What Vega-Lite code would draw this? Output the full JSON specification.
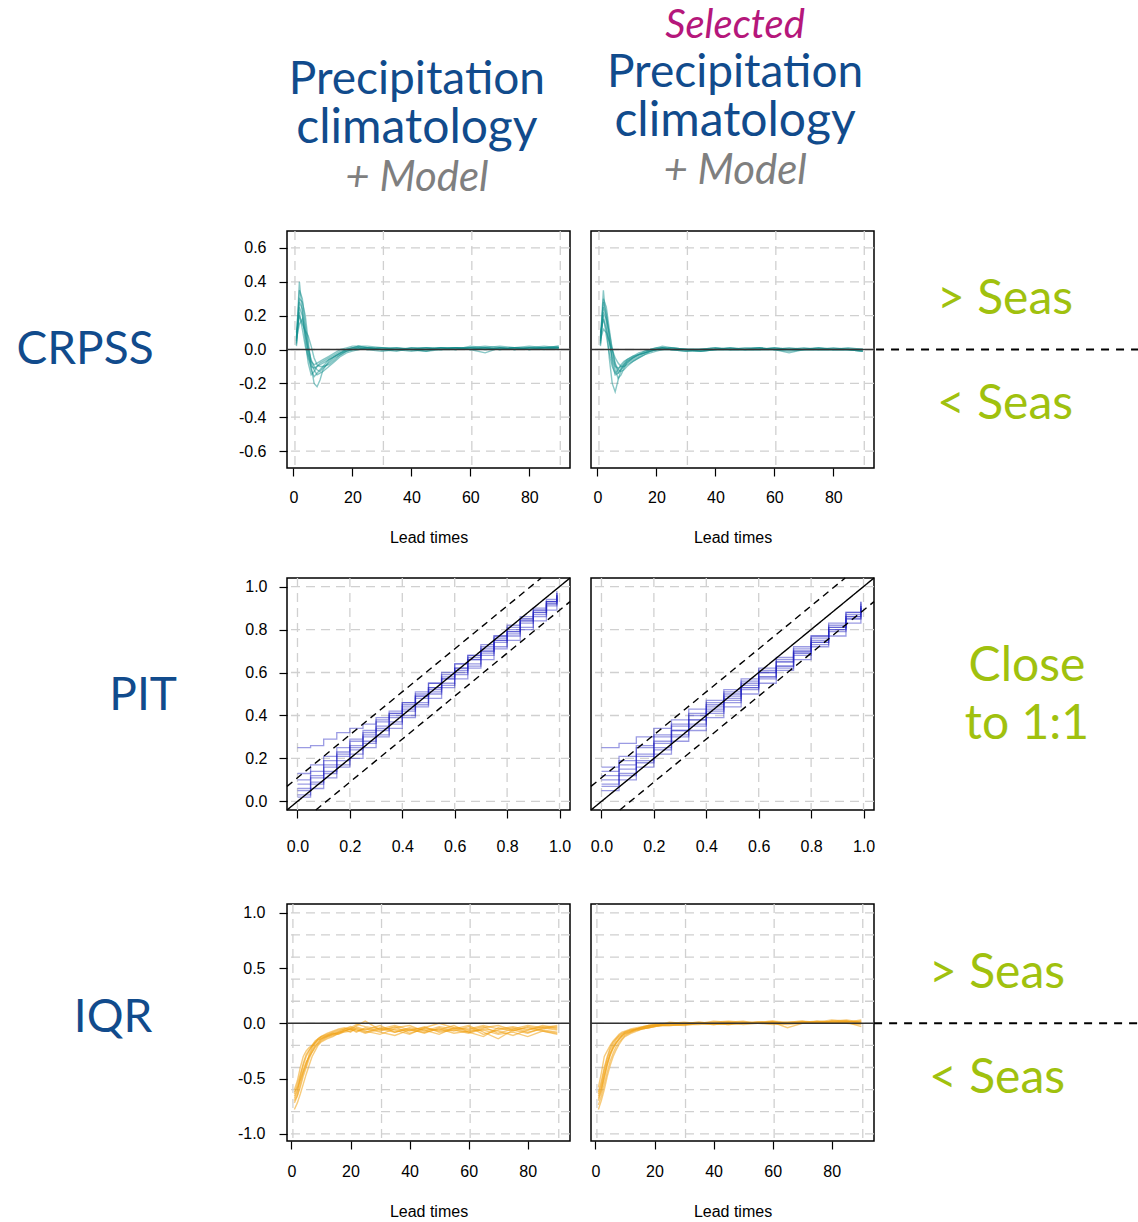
{
"$schema":"https://vega.github.io/schema/vega-lite/v6.json",
"padding":0,
"background":"white",
"columns":4,
"spacing":{"row":20,"column":21},
"bounds":"flush",
"config":{
 "view":{"stroke":null},
 "locale":{"number":{"decimal":".","thousands":",","grouping":[3],"currency":["$",""],"minus":"-"}},
 "axis":{"domain":false,"grid":false,"tickColor":"black","tickWidth":1.2,"tickSize":8,"labelFont":"Liberation Sans","labelFontSize":16,"labelColor":"black","titleFont":"Liberation Sans","titleFontSize":16,"titleFontWeight":"normal","titleColor":"black","labelFlush":false,"labelOverlap":false}
},
"datasets":{
 "gridLead":[{"g":0.5},{"g":30.5},{"g":60.5},{"g":90.5}],
 "gridC":[{"g":-0.6},{"g":-0.4},{"g":-0.2},{"g":0},{"g":0.2},{"g":0.4},{"g":0.6}],
 "gridI":[{"g":-1},{"g":-0.8},{"g":-0.6},{"g":-0.4},{"g":-0.2},{"g":0},{"g":0.2},{"g":0.4},{"g":0.6},{"g":0.8},{"g":1}],
 "gridP":[{"g":0},{"g":0.2},{"g":0.4},{"g":0.6},{"g":0.8},{"g":1}],
 "pitRef":[{"k":"a","x":-0.04,"y":-0.04},{"k":"a","x":1.04,"y":1.04},{"k":"b","x":-0.04,"y":0.07},{"k":"b","x":0.93,"y":1.04},{"k":"c","x":0.07,"y":-0.04},{"k":"c","x":1.04,"y":0.93}],
 "crpssL":[
{"s":1,"x":1,"y":0.05},{"s":1,"x":2,"y":0.4},{"s":1,"x":3,"y":0.22},{"s":1,"x":4,"y":0.05},{"s":1,"x":5,"y":-0.08},{"s":1,"x":6,"y":-0.15},{"s":1,"x":7,"y":-0.13},{"s":1,"x":8,"y":-0.1},{"s":1,"x":9,"y":-0.08},{"s":1,"x":10,"y":-0.07},{"s":1,"x":12,"y":-0.05},{"s":1,"x":14,"y":-0.03},{"s":1,"x":16,"y":-0.01},{"s":1,"x":18,"y":0},{"s":1,"x":20,"y":0.01},{"s":1,"x":22,"y":0.02},{"s":1,"x":25,"y":0.01},{"s":1,"x":30,"y":0},{"s":1,"x":35,"y":0.01},{"s":1,"x":40,"y":0},{"s":1,"x":45,"y":0.01},{"s":1,"x":50,"y":0},{"s":1,"x":55,"y":0.01},{"s":1,"x":60,"y":0.01},{"s":1,"x":65,"y":0},{"s":1,"x":70,"y":0.01},{"s":1,"x":75,"y":0.01},{"s":1,"x":80,"y":0},{"s":1,"x":85,"y":0.01},{"s":1,"x":90,"y":0.01},
{"s":2,"x":1,"y":0.1},{"s":2,"x":2,"y":0.3},{"s":2,"x":3,"y":0.28},{"s":2,"x":4,"y":0.2},{"s":2,"x":5,"y":0.05},{"s":2,"x":6,"y":-0.1},{"s":2,"x":7,"y":-0.2},{"s":2,"x":8,"y":-0.22},{"s":2,"x":9,"y":-0.18},{"s":2,"x":10,"y":-0.12},{"s":2,"x":12,"y":-0.07},{"s":2,"x":14,"y":-0.04},{"s":2,"x":16,"y":-0.02},{"s":2,"x":18,"y":0},{"s":2,"x":20,"y":0.01},{"s":2,"x":22,"y":0.01},{"s":2,"x":25,"y":0},{"s":2,"x":30,"y":-0.01},{"s":2,"x":35,"y":0},{"s":2,"x":40,"y":0},{"s":2,"x":45,"y":-0.01},{"s":2,"x":50,"y":0},{"s":2,"x":55,"y":0.01},{"s":2,"x":60,"y":0},{"s":2,"x":65,"y":0.01},{"s":2,"x":70,"y":0},{"s":2,"x":75,"y":0.01},{"s":2,"x":80,"y":0.01},{"s":2,"x":85,"y":0},{"s":2,"x":90,"y":0.01},
{"s":3,"x":1,"y":0.02},{"s":3,"x":2,"y":0.25},{"s":3,"x":3,"y":0.2},{"s":3,"x":4,"y":0.1},{"s":3,"x":5,"y":0},{"s":3,"x":6,"y":-0.06},{"s":3,"x":7,"y":-0.1},{"s":3,"x":8,"y":-0.12},{"s":3,"x":9,"y":-0.13},{"s":3,"x":10,"y":-0.11},{"s":3,"x":12,"y":-0.08},{"s":3,"x":14,"y":-0.05},{"s":3,"x":16,"y":-0.03},{"s":3,"x":18,"y":-0.01},{"s":3,"x":20,"y":0},{"s":3,"x":22,"y":0.01},{"s":3,"x":25,"y":0.01},{"s":3,"x":30,"y":0},{"s":3,"x":35,"y":-0.01},{"s":3,"x":40,"y":0.01},{"s":3,"x":45,"y":0},{"s":3,"x":50,"y":0.01},{"s":3,"x":55,"y":0},{"s":3,"x":60,"y":0.02},{"s":3,"x":65,"y":0.01},{"s":3,"x":70,"y":0},{"s":3,"x":75,"y":0.01},{"s":3,"x":80,"y":0.02},{"s":3,"x":85,"y":0.01},{"s":3,"x":90,"y":0.02},
{"s":4,"x":1,"y":0.08},{"s":4,"x":2,"y":0.2},{"s":4,"x":3,"y":0.15},{"s":4,"x":4,"y":0.11},{"s":4,"x":5,"y":0.08},{"s":4,"x":6,"y":0.02},{"s":4,"x":7,"y":-0.05},{"s":4,"x":8,"y":-0.09},{"s":4,"x":9,"y":-0.1},{"s":4,"x":10,"y":-0.1},{"s":4,"x":12,"y":-0.09},{"s":4,"x":14,"y":-0.06},{"s":4,"x":16,"y":-0.03},{"s":4,"x":18,"y":-0.01},{"s":4,"x":20,"y":0},{"s":4,"x":22,"y":0},{"s":4,"x":25,"y":0.01},{"s":4,"x":30,"y":0},{"s":4,"x":35,"y":0},{"s":4,"x":40,"y":-0.01},{"s":4,"x":45,"y":0},{"s":4,"x":50,"y":0},{"s":4,"x":55,"y":0.01},{"s":4,"x":60,"y":0},{"s":4,"x":65,"y":-0.02},{"s":4,"x":70,"y":0.01},{"s":4,"x":75,"y":0},{"s":4,"x":80,"y":0.01},{"s":4,"x":85,"y":0.02},{"s":4,"x":90,"y":0.01},
{"s":5,"x":1,"y":0.04},{"s":5,"x":2,"y":0.28},{"s":5,"x":3,"y":0.24},{"s":5,"x":4,"y":0.12},{"s":5,"x":5,"y":-0.02},{"s":5,"x":6,"y":-0.12},{"s":5,"x":7,"y":-0.16},{"s":5,"x":8,"y":-0.14},{"s":5,"x":9,"y":-0.12},{"s":5,"x":10,"y":-0.1},{"s":5,"x":12,"y":-0.06},{"s":5,"x":14,"y":-0.04},{"s":5,"x":16,"y":-0.02},{"s":5,"x":18,"y":0},{"s":5,"x":20,"y":0.01},{"s":5,"x":22,"y":0.02},{"s":5,"x":25,"y":0.02},{"s":5,"x":30,"y":0.01},{"s":5,"x":35,"y":0},{"s":5,"x":40,"y":0},{"s":5,"x":45,"y":0.01},{"s":5,"x":50,"y":0.01},{"s":5,"x":55,"y":0},{"s":5,"x":60,"y":0.01},{"s":5,"x":65,"y":0.01},{"s":5,"x":70,"y":0.02},{"s":5,"x":75,"y":0.01},{"s":5,"x":80,"y":0},{"s":5,"x":85,"y":0.01},{"s":5,"x":90,"y":0.01},
{"s":6,"x":1,"y":0.06},{"s":6,"x":2,"y":0.15},{"s":6,"x":3,"y":0.18},{"s":6,"x":4,"y":0.08},{"s":6,"x":5,"y":-0.03},{"s":6,"x":6,"y":-0.08},{"s":6,"x":7,"y":-0.12},{"s":6,"x":8,"y":-0.15},{"s":6,"x":9,"y":-0.14},{"s":6,"x":10,"y":-0.13},{"s":6,"x":12,"y":-0.1},{"s":6,"x":14,"y":-0.07},{"s":6,"x":16,"y":-0.04},{"s":6,"x":18,"y":-0.02},{"s":6,"x":20,"y":-0.01},{"s":6,"x":22,"y":0},{"s":6,"x":25,"y":0.01},{"s":6,"x":30,"y":0},{"s":6,"x":35,"y":0},{"s":6,"x":40,"y":0},{"s":6,"x":45,"y":-0.01},{"s":6,"x":50,"y":0.01},{"s":6,"x":55,"y":0.01},{"s":6,"x":60,"y":0.01},{"s":6,"x":65,"y":0},{"s":6,"x":70,"y":0.01},{"s":6,"x":75,"y":0},{"s":6,"x":80,"y":0.01},{"s":6,"x":85,"y":0.01},{"s":6,"x":90,"y":0},
{"s":7,"x":1,"y":0.03},{"s":7,"x":2,"y":0.35},{"s":7,"x":3,"y":0.3},{"s":7,"x":4,"y":0.15},{"s":7,"x":5,"y":0.02},{"s":7,"x":6,"y":-0.07},{"s":7,"x":7,"y":-0.09},{"s":7,"x":8,"y":-0.08},{"s":7,"x":9,"y":-0.07},{"s":7,"x":10,"y":-0.06},{"s":7,"x":12,"y":-0.04},{"s":7,"x":14,"y":-0.02},{"s":7,"x":16,"y":0},{"s":7,"x":18,"y":0.01},{"s":7,"x":20,"y":0.02},{"s":7,"x":22,"y":0.02},{"s":7,"x":25,"y":0.01},{"s":7,"x":30,"y":0.01},{"s":7,"x":35,"y":0},{"s":7,"x":40,"y":0.01},{"s":7,"x":45,"y":0.01},{"s":7,"x":50,"y":0},{"s":7,"x":55,"y":0},{"s":7,"x":60,"y":0.01},{"s":7,"x":65,"y":0.02},{"s":7,"x":70,"y":0.01},{"s":7,"x":75,"y":0},{"s":7,"x":80,"y":0.01},{"s":7,"x":85,"y":0.01},{"s":7,"x":90,"y":0.02},
{"s":8,"x":1,"y":0.07},{"s":8,"x":2,"y":0.22},{"s":8,"x":3,"y":0.12},{"s":8,"x":4,"y":0.02},{"s":8,"x":5,"y":-0.05},{"s":8,"x":6,"y":-0.1},{"s":8,"x":7,"y":-0.11},{"s":8,"x":8,"y":-0.1},{"s":8,"x":9,"y":-0.09},{"s":8,"x":10,"y":-0.08},{"s":8,"x":12,"y":-0.06},{"s":8,"x":14,"y":-0.04},{"s":8,"x":16,"y":-0.02},{"s":8,"x":18,"y":-0.01},{"s":8,"x":20,"y":0},{"s":8,"x":22,"y":0.01},{"s":8,"x":25,"y":0},{"s":8,"x":30,"y":0.01},{"s":8,"x":35,"y":0.01},{"s":8,"x":40,"y":0},{"s":8,"x":45,"y":0},{"s":8,"x":50,"y":0.01},{"s":8,"x":55,"y":0.01},{"s":8,"x":60,"y":0},{"s":8,"x":65,"y":0.01},{"s":8,"x":70,"y":0},{"s":8,"x":75,"y":0.01},{"s":8,"x":80,"y":0},{"s":8,"x":85,"y":0.01},{"s":8,"x":90,"y":0.01}
 ],
 "crpssR":[
{"s":1,"x":1,"y":0.05},{"s":1,"x":2,"y":0.35},{"s":1,"x":3,"y":0.15},{"s":1,"x":4,"y":-0.05},{"s":1,"x":5,"y":-0.2},{"s":1,"x":6,"y":-0.25},{"s":1,"x":7,"y":-0.18},{"s":1,"x":8,"y":-0.12},{"s":1,"x":9,"y":-0.09},{"s":1,"x":10,"y":-0.07},{"s":1,"x":12,"y":-0.05},{"s":1,"x":14,"y":-0.03},{"s":1,"x":16,"y":-0.02},{"s":1,"x":18,"y":-0.01},{"s":1,"x":20,"y":0},{"s":1,"x":22,"y":0.01},{"s":1,"x":25,"y":0.01},{"s":1,"x":30,"y":0},{"s":1,"x":35,"y":-0.01},{"s":1,"x":40,"y":0},{"s":1,"x":45,"y":0},{"s":1,"x":50,"y":0},{"s":1,"x":55,"y":0.01},{"s":1,"x":60,"y":0},{"s":1,"x":65,"y":0},{"s":1,"x":70,"y":0.01},{"s":1,"x":75,"y":0},{"s":1,"x":80,"y":0},{"s":1,"x":85,"y":0},{"s":1,"x":90,"y":-0.01},
{"s":2,"x":1,"y":0.08},{"s":2,"x":2,"y":0.28},{"s":2,"x":3,"y":0.22},{"s":2,"x":4,"y":0.08},{"s":2,"x":5,"y":-0.08},{"s":2,"x":6,"y":-0.15},{"s":2,"x":7,"y":-0.14},{"s":2,"x":8,"y":-0.11},{"s":2,"x":9,"y":-0.09},{"s":2,"x":10,"y":-0.07},{"s":2,"x":12,"y":-0.05},{"s":2,"x":14,"y":-0.03},{"s":2,"x":16,"y":-0.01},{"s":2,"x":18,"y":0},{"s":2,"x":20,"y":0.01},{"s":2,"x":22,"y":0.01},{"s":2,"x":25,"y":0},{"s":2,"x":30,"y":-0.01},{"s":2,"x":35,"y":0},{"s":2,"x":40,"y":0},{"s":2,"x":45,"y":0.01},{"s":2,"x":50,"y":0},{"s":2,"x":55,"y":0},{"s":2,"x":60,"y":0.01},{"s":2,"x":65,"y":0},{"s":2,"x":70,"y":0},{"s":2,"x":75,"y":0.01},{"s":2,"x":80,"y":0},{"s":2,"x":85,"y":0},{"s":2,"x":90,"y":0},
{"s":3,"x":1,"y":0.02},{"s":3,"x":2,"y":0.22},{"s":3,"x":3,"y":0.18},{"s":3,"x":4,"y":0.1},{"s":3,"x":5,"y":0},{"s":3,"x":6,"y":-0.08},{"s":3,"x":7,"y":-0.12},{"s":3,"x":8,"y":-0.13},{"s":3,"x":9,"y":-0.12},{"s":3,"x":10,"y":-0.1},{"s":3,"x":12,"y":-0.07},{"s":3,"x":14,"y":-0.05},{"s":3,"x":16,"y":-0.03},{"s":3,"x":18,"y":-0.01},{"s":3,"x":20,"y":0},{"s":3,"x":22,"y":0},{"s":3,"x":25,"y":0.01},{"s":3,"x":30,"y":0},{"s":3,"x":35,"y":0},{"s":3,"x":40,"y":0.01},{"s":3,"x":45,"y":0},{"s":3,"x":50,"y":0.01},{"s":3,"x":55,"y":0.01},{"s":3,"x":60,"y":0},{"s":3,"x":65,"y":-0.01},{"s":3,"x":70,"y":0},{"s":3,"x":75,"y":0},{"s":3,"x":80,"y":0.01},{"s":3,"x":85,"y":0},{"s":3,"x":90,"y":0},
{"s":4,"x":1,"y":0.1},{"s":4,"x":2,"y":0.18},{"s":4,"x":3,"y":0.12},{"s":4,"x":4,"y":0.04},{"s":4,"x":5,"y":-0.04},{"s":4,"x":6,"y":-0.1},{"s":4,"x":7,"y":-0.11},{"s":4,"x":8,"y":-0.1},{"s":4,"x":9,"y":-0.08},{"s":4,"x":10,"y":-0.06},{"s":4,"x":12,"y":-0.04},{"s":4,"x":14,"y":-0.02},{"s":4,"x":16,"y":-0.01},{"s":4,"x":18,"y":0},{"s":4,"x":20,"y":0},{"s":4,"x":22,"y":0.01},{"s":4,"x":25,"y":0},{"s":4,"x":30,"y":0},{"s":4,"x":35,"y":-0.01},{"s":4,"x":40,"y":0},{"s":4,"x":45,"y":0},{"s":4,"x":50,"y":0},{"s":4,"x":55,"y":0},{"s":4,"x":60,"y":0.01},{"s":4,"x":65,"y":0},{"s":4,"x":70,"y":0},{"s":4,"x":75,"y":0},{"s":4,"x":80,"y":0},{"s":4,"x":85,"y":0.01},{"s":4,"x":90,"y":0},
{"s":5,"x":1,"y":0.04},{"s":5,"x":2,"y":0.25},{"s":5,"x":3,"y":0.2},{"s":5,"x":4,"y":0.06},{"s":5,"x":5,"y":-0.06},{"s":5,"x":6,"y":-0.12},{"s":5,"x":7,"y":-0.17},{"s":5,"x":8,"y":-0.15},{"s":5,"x":9,"y":-0.11},{"s":5,"x":10,"y":-0.08},{"s":5,"x":12,"y":-0.05},{"s":5,"x":14,"y":-0.03},{"s":5,"x":16,"y":-0.02},{"s":5,"x":18,"y":0},{"s":5,"x":20,"y":0.01},{"s":5,"x":22,"y":0.02},{"s":5,"x":25,"y":0.01},{"s":5,"x":30,"y":0},{"s":5,"x":35,"y":0},{"s":5,"x":40,"y":0},{"s":5,"x":45,"y":0.01},{"s":5,"x":50,"y":0},{"s":5,"x":55,"y":0.01},{"s":5,"x":60,"y":0},{"s":5,"x":65,"y":0},{"s":5,"x":70,"y":0},{"s":5,"x":75,"y":0.01},{"s":5,"x":80,"y":0},{"s":5,"x":85,"y":0},{"s":5,"x":90,"y":-0.01},
{"s":6,"x":1,"y":0.06},{"s":6,"x":2,"y":0.12},{"s":6,"x":3,"y":0.1},{"s":6,"x":4,"y":0.05},{"s":6,"x":5,"y":0},{"s":6,"x":6,"y":-0.05},{"s":6,"x":7,"y":-0.08},{"s":6,"x":8,"y":-0.1},{"s":6,"x":9,"y":-0.1},{"s":6,"x":10,"y":-0.09},{"s":6,"x":12,"y":-0.07},{"s":6,"x":14,"y":-0.05},{"s":6,"x":16,"y":-0.03},{"s":6,"x":18,"y":-0.02},{"s":6,"x":20,"y":-0.01},{"s":6,"x":22,"y":0},{"s":6,"x":25,"y":0},{"s":6,"x":30,"y":-0.01},{"s":6,"x":35,"y":-0.01},{"s":6,"x":40,"y":0},{"s":6,"x":45,"y":0},{"s":6,"x":50,"y":0},{"s":6,"x":55,"y":0},{"s":6,"x":60,"y":0},{"s":6,"x":65,"y":-0.02},{"s":6,"x":70,"y":0},{"s":6,"x":75,"y":0},{"s":6,"x":80,"y":0},{"s":6,"x":85,"y":0},{"s":6,"x":90,"y":0},
{"s":7,"x":1,"y":0.03},{"s":7,"x":2,"y":0.3},{"s":7,"x":3,"y":0.25},{"s":7,"x":4,"y":0.12},{"s":7,"x":5,"y":0},{"s":7,"x":6,"y":-0.09},{"s":7,"x":7,"y":-0.14},{"s":7,"x":8,"y":-0.12},{"s":7,"x":9,"y":-0.1},{"s":7,"x":10,"y":-0.08},{"s":7,"x":12,"y":-0.06},{"s":7,"x":14,"y":-0.04},{"s":7,"x":16,"y":-0.02},{"s":7,"x":18,"y":-0.01},{"s":7,"x":20,"y":0},{"s":7,"x":22,"y":0.01},{"s":7,"x":25,"y":0},{"s":7,"x":30,"y":0},{"s":7,"x":35,"y":0},{"s":7,"x":40,"y":0.01},{"s":7,"x":45,"y":0},{"s":7,"x":50,"y":0},{"s":7,"x":55,"y":0},{"s":7,"x":60,"y":0},{"s":7,"x":65,"y":0.01},{"s":7,"x":70,"y":0},{"s":7,"x":75,"y":0},{"s":7,"x":80,"y":0},{"s":7,"x":85,"y":0},{"s":7,"x":90,"y":0},
{"s":8,"x":1,"y":0.07},{"s":8,"x":2,"y":0.2},{"s":8,"x":3,"y":0.08},{"s":8,"x":4,"y":-0.02},{"s":8,"x":5,"y":-0.1},{"s":8,"x":6,"y":-0.14},{"s":8,"x":7,"y":-0.12},{"s":8,"x":8,"y":-0.09},{"s":8,"x":9,"y":-0.07},{"s":8,"x":10,"y":-0.06},{"s":8,"x":12,"y":-0.04},{"s":8,"x":14,"y":-0.03},{"s":8,"x":16,"y":-0.02},{"s":8,"x":18,"y":-0.01},{"s":8,"x":20,"y":0},{"s":8,"x":22,"y":0},{"s":8,"x":25,"y":0},{"s":8,"x":30,"y":0},{"s":8,"x":35,"y":0},{"s":8,"x":40,"y":0},{"s":8,"x":45,"y":0},{"s":8,"x":50,"y":0},{"s":8,"x":55,"y":0},{"s":8,"x":60,"y":0},{"s":8,"x":65,"y":0},{"s":8,"x":70,"y":0},{"s":8,"x":75,"y":0},{"s":8,"x":80,"y":0},{"s":8,"x":85,"y":0},{"s":8,"x":90,"y":-0.01}
 ],
 "iqrL":[
{"s":1,"x":1,"y":-0.62},{"s":1,"x":2,"y":-0.58},{"s":1,"x":3,"y":-0.5},{"s":1,"x":4,"y":-0.42},{"s":1,"x":5,"y":-0.35},{"s":1,"x":6,"y":-0.3},{"s":1,"x":7,"y":-0.24},{"s":1,"x":8,"y":-0.2},{"s":1,"x":9,"y":-0.18},{"s":1,"x":10,"y":-0.15},{"s":1,"x":12,"y":-0.12},{"s":1,"x":14,"y":-0.1},{"s":1,"x":16,"y":-0.08},{"s":1,"x":18,"y":-0.06},{"s":1,"x":20,"y":-0.05},{"s":1,"x":22,"y":-0.03},{"s":1,"x":25,"y":-0.06},{"s":1,"x":30,"y":-0.02},{"s":1,"x":35,"y":-0.08},{"s":1,"x":40,"y":-0.05},{"s":1,"x":45,"y":-0.09},{"s":1,"x":50,"y":-0.04},{"s":1,"x":55,"y":-0.07},{"s":1,"x":60,"y":-0.03},{"s":1,"x":65,"y":-0.1},{"s":1,"x":70,"y":-0.06},{"s":1,"x":75,"y":-0.04},{"s":1,"x":80,"y":-0.08},{"s":1,"x":85,"y":-0.05},{"s":1,"x":90,"y":-0.03},
{"s":2,"x":1,"y":-0.7},{"s":2,"x":2,"y":-0.65},{"s":2,"x":3,"y":-0.55},{"s":2,"x":4,"y":-0.45},{"s":2,"x":5,"y":-0.38},{"s":2,"x":6,"y":-0.28},{"s":2,"x":7,"y":-0.22},{"s":2,"x":8,"y":-0.18},{"s":2,"x":9,"y":-0.15},{"s":2,"x":10,"y":-0.14},{"s":2,"x":12,"y":-0.11},{"s":2,"x":14,"y":-0.09},{"s":2,"x":16,"y":-0.1},{"s":2,"x":18,"y":-0.07},{"s":2,"x":20,"y":-0.05},{"s":2,"x":22,"y":-0.08},{"s":2,"x":25,"y":-0.04},{"s":2,"x":30,"y":-0.07},{"s":2,"x":35,"y":-0.03},{"s":2,"x":40,"y":-0.09},{"s":2,"x":45,"y":-0.05},{"s":2,"x":50,"y":-0.06},{"s":2,"x":55,"y":-0.02},{"s":2,"x":60,"y":-0.08},{"s":2,"x":65,"y":-0.12},{"s":2,"x":70,"y":-0.04},{"s":2,"x":75,"y":-0.07},{"s":2,"x":80,"y":-0.03},{"s":2,"x":85,"y":-0.06},{"s":2,"x":90,"y":-0.08},
{"s":3,"x":1,"y":-0.78},{"s":3,"x":2,"y":-0.72},{"s":3,"x":3,"y":-0.64},{"s":3,"x":4,"y":-0.55},{"s":3,"x":5,"y":-0.46},{"s":3,"x":6,"y":-0.38},{"s":3,"x":7,"y":-0.3},{"s":3,"x":8,"y":-0.25},{"s":3,"x":9,"y":-0.2},{"s":3,"x":10,"y":-0.17},{"s":3,"x":12,"y":-0.14},{"s":3,"x":14,"y":-0.12},{"s":3,"x":16,"y":-0.09},{"s":3,"x":18,"y":-0.08},{"s":3,"x":20,"y":-0.07},{"s":3,"x":22,"y":-0.05},{"s":3,"x":25,"y":-0.08},{"s":3,"x":30,"y":-0.04},{"s":3,"x":35,"y":-0.06},{"s":3,"x":40,"y":-0.1},{"s":3,"x":45,"y":-0.04},{"s":3,"x":50,"y":-0.07},{"s":3,"x":55,"y":-0.05},{"s":3,"x":60,"y":-0.02},{"s":3,"x":65,"y":-0.08},{"s":3,"x":70,"y":-0.14},{"s":3,"x":75,"y":-0.06},{"s":3,"x":80,"y":-0.04},{"s":3,"x":85,"y":-0.07},{"s":3,"x":90,"y":-0.1},
{"s":4,"x":1,"y":-0.6},{"s":4,"x":2,"y":-0.52},{"s":4,"x":3,"y":-0.4},{"s":4,"x":4,"y":-0.3},{"s":4,"x":5,"y":-0.25},{"s":4,"x":6,"y":-0.22},{"s":4,"x":7,"y":-0.2},{"s":4,"x":8,"y":-0.16},{"s":4,"x":9,"y":-0.14},{"s":4,"x":10,"y":-0.12},{"s":4,"x":12,"y":-0.1},{"s":4,"x":14,"y":-0.08},{"s":4,"x":16,"y":-0.06},{"s":4,"x":18,"y":-0.05},{"s":4,"x":20,"y":-0.03},{"s":4,"x":22,"y":-0.06},{"s":4,"x":25,"y":-0.09},{"s":4,"x":30,"y":-0.05},{"s":4,"x":35,"y":-0.08},{"s":4,"x":40,"y":-0.04},{"s":4,"x":45,"y":-0.06},{"s":4,"x":50,"y":-0.1},{"s":4,"x":55,"y":-0.04},{"s":4,"x":60,"y":-0.06},{"s":4,"x":65,"y":-0.03},{"s":4,"x":70,"y":-0.09},{"s":4,"x":75,"y":-0.05},{"s":4,"x":80,"y":-0.02},{"s":4,"x":85,"y":-0.04},{"s":4,"x":90,"y":-0.06},
{"s":5,"x":1,"y":-0.66},{"s":5,"x":2,"y":-0.6},{"s":5,"x":3,"y":-0.52},{"s":5,"x":4,"y":-0.44},{"s":5,"x":5,"y":-0.36},{"s":5,"x":6,"y":-0.3},{"s":5,"x":7,"y":-0.26},{"s":5,"x":8,"y":-0.22},{"s":5,"x":9,"y":-0.19},{"s":5,"x":10,"y":-0.16},{"s":5,"x":12,"y":-0.13},{"s":5,"x":14,"y":-0.11},{"s":5,"x":16,"y":-0.09},{"s":5,"x":18,"y":-0.06},{"s":5,"x":20,"y":-0.08},{"s":5,"x":22,"y":-0.04},{"s":5,"x":25,"y":-0.07},{"s":5,"x":30,"y":-0.1},{"s":5,"x":35,"y":-0.05},{"s":5,"x":40,"y":-0.07},{"s":5,"x":45,"y":-0.03},{"s":5,"x":50,"y":-0.08},{"s":5,"x":55,"y":-0.06},{"s":5,"x":60,"y":-0.09},{"s":5,"x":65,"y":-0.05},{"s":5,"x":70,"y":-0.07},{"s":5,"x":75,"y":-0.11},{"s":5,"x":80,"y":-0.06},{"s":5,"x":85,"y":-0.03},{"s":5,"x":90,"y":-0.05},
{"s":6,"x":1,"y":-0.64},{"s":6,"x":2,"y":-0.55},{"s":6,"x":3,"y":-0.46},{"s":6,"x":4,"y":-0.38},{"s":6,"x":5,"y":-0.3},{"s":6,"x":6,"y":-0.25},{"s":6,"x":7,"y":-0.2},{"s":6,"x":8,"y":-0.17},{"s":6,"x":9,"y":-0.14},{"s":6,"x":10,"y":-0.12},{"s":6,"x":12,"y":-0.09},{"s":6,"x":14,"y":-0.07},{"s":6,"x":16,"y":-0.05},{"s":6,"x":18,"y":-0.04},{"s":6,"x":20,"y":-0.06},{"s":6,"x":22,"y":-0.02},{"s":6,"x":25,"y":0.02},{"s":6,"x":30,"y":-0.06},{"s":6,"x":35,"y":-0.04},{"s":6,"x":40,"y":-0.02},{"s":6,"x":45,"y":-0.07},{"s":6,"x":50,"y":-0.03},{"s":6,"x":55,"y":-0.05},{"s":6,"x":60,"y":-0.08},{"s":6,"x":65,"y":-0.04},{"s":6,"x":70,"y":-0.02},{"s":6,"x":75,"y":-0.06},{"s":6,"x":80,"y":-0.09},{"s":6,"x":85,"y":-0.04},{"s":6,"x":90,"y":-0.02},
{"s":7,"x":1,"y":-0.72},{"s":7,"x":2,"y":-0.66},{"s":7,"x":3,"y":-0.58},{"s":7,"x":4,"y":-0.48},{"s":7,"x":5,"y":-0.4},{"s":7,"x":6,"y":-0.32},{"s":7,"x":7,"y":-0.26},{"s":7,"x":8,"y":-0.21},{"s":7,"x":9,"y":-0.17},{"s":7,"x":10,"y":-0.14},{"s":7,"x":12,"y":-0.12},{"s":7,"x":14,"y":-0.1},{"s":7,"x":16,"y":-0.08},{"s":7,"x":18,"y":-0.07},{"s":7,"x":20,"y":-0.05},{"s":7,"x":22,"y":-0.07},{"s":7,"x":25,"y":-0.05},{"s":7,"x":30,"y":-0.08},{"s":7,"x":35,"y":-0.11},{"s":7,"x":40,"y":-0.06},{"s":7,"x":45,"y":-0.08},{"s":7,"x":50,"y":-0.05},{"s":7,"x":55,"y":-0.09},{"s":7,"x":60,"y":-0.07},{"s":7,"x":65,"y":-0.06},{"s":7,"x":70,"y":-0.1},{"s":7,"x":75,"y":-0.08},{"s":7,"x":80,"y":-0.12},{"s":7,"x":85,"y":-0.07},{"s":7,"x":90,"y":-0.09},
{"s":8,"x":1,"y":-0.68},{"s":8,"x":2,"y":-0.62},{"s":8,"x":3,"y":-0.48},{"s":8,"x":4,"y":-0.36},{"s":8,"x":5,"y":-0.28},{"s":8,"x":6,"y":-0.24},{"s":8,"x":7,"y":-0.21},{"s":8,"x":8,"y":-0.18},{"s":8,"x":9,"y":-0.15},{"s":8,"x":10,"y":-0.13},{"s":8,"x":12,"y":-0.11},{"s":8,"x":14,"y":-0.09},{"s":8,"x":16,"y":-0.07},{"s":8,"x":18,"y":-0.05},{"s":8,"x":20,"y":-0.04},{"s":8,"x":22,"y":-0.01},{"s":8,"x":25,"y":-0.03},{"s":8,"x":30,"y":-0.05},{"s":8,"x":35,"y":-0.02},{"s":8,"x":40,"y":-0.06},{"s":8,"x":45,"y":-0.04},{"s":8,"x":50,"y":0},{"s":8,"x":55,"y":-0.04},{"s":8,"x":60,"y":-0.05},{"s":8,"x":65,"y":-0.02},{"s":8,"x":70,"y":-0.05},{"s":8,"x":75,"y":-0.03},{"s":8,"x":80,"y":-0.06},{"s":8,"x":85,"y":-0.02},{"s":8,"x":90,"y":-0.04}
 ],
 "iqrR":[
{"s":1,"x":1,"y":-0.62},{"s":1,"x":2,"y":-0.52},{"s":1,"x":3,"y":-0.4},{"s":1,"x":4,"y":-0.3},{"s":1,"x":5,"y":-0.22},{"s":1,"x":6,"y":-0.17},{"s":1,"x":7,"y":-0.14},{"s":1,"x":8,"y":-0.11},{"s":1,"x":9,"y":-0.09},{"s":1,"x":10,"y":-0.08},{"s":1,"x":12,"y":-0.06},{"s":1,"x":14,"y":-0.05},{"s":1,"x":16,"y":-0.04},{"s":1,"x":18,"y":-0.03},{"s":1,"x":20,"y":-0.02},{"s":1,"x":22,"y":-0.02},{"s":1,"x":25,"y":-0.01},{"s":1,"x":30,"y":-0.01},{"s":1,"x":35,"y":0},{"s":1,"x":40,"y":0},{"s":1,"x":45,"y":0.01},{"s":1,"x":50,"y":-0.01},{"s":1,"x":55,"y":0},{"s":1,"x":60,"y":0.01},{"s":1,"x":65,"y":0},{"s":1,"x":70,"y":0.01},{"s":1,"x":75,"y":0.02},{"s":1,"x":80,"y":0.01},{"s":1,"x":85,"y":0.02},{"s":1,"x":90,"y":0},
{"s":2,"x":1,"y":-0.7},{"s":2,"x":2,"y":-0.62},{"s":2,"x":3,"y":-0.5},{"s":2,"x":4,"y":-0.38},{"s":2,"x":5,"y":-0.28},{"s":2,"x":6,"y":-0.21},{"s":2,"x":7,"y":-0.17},{"s":2,"x":8,"y":-0.14},{"s":2,"x":9,"y":-0.11},{"s":2,"x":10,"y":-0.09},{"s":2,"x":12,"y":-0.07},{"s":2,"x":14,"y":-0.05},{"s":2,"x":16,"y":-0.04},{"s":2,"x":18,"y":-0.03},{"s":2,"x":20,"y":-0.02},{"s":2,"x":22,"y":-0.01},{"s":2,"x":25,"y":0},{"s":2,"x":30,"y":0},{"s":2,"x":35,"y":0.01},{"s":2,"x":40,"y":0},{"s":2,"x":45,"y":-0.01},{"s":2,"x":50,"y":0},{"s":2,"x":55,"y":0.01},{"s":2,"x":60,"y":0.02},{"s":2,"x":65,"y":0},{"s":2,"x":70,"y":0.01},{"s":2,"x":75,"y":0},{"s":2,"x":80,"y":0.02},{"s":2,"x":85,"y":0.03},{"s":2,"x":90,"y":0.01},
{"s":3,"x":1,"y":-0.78},{"s":3,"x":2,"y":-0.7},{"s":3,"x":3,"y":-0.6},{"s":3,"x":4,"y":-0.48},{"s":3,"x":5,"y":-0.38},{"s":3,"x":6,"y":-0.3},{"s":3,"x":7,"y":-0.24},{"s":3,"x":8,"y":-0.19},{"s":3,"x":9,"y":-0.15},{"s":3,"x":10,"y":-0.12},{"s":3,"x":12,"y":-0.09},{"s":3,"x":14,"y":-0.07},{"s":3,"x":16,"y":-0.05},{"s":3,"x":18,"y":-0.04},{"s":3,"x":20,"y":-0.03},{"s":3,"x":22,"y":-0.02},{"s":3,"x":25,"y":-0.02},{"s":3,"x":30,"y":-0.01},{"s":3,"x":35,"y":0},{"s":3,"x":40,"y":-0.01},{"s":3,"x":45,"y":0},{"s":3,"x":50,"y":0},{"s":3,"x":55,"y":0.01},{"s":3,"x":60,"y":0},{"s":3,"x":65,"y":-0.01},{"s":3,"x":70,"y":0},{"s":3,"x":75,"y":0.01},{"s":3,"x":80,"y":0},{"s":3,"x":85,"y":0.01},{"s":3,"x":90,"y":-0.03},
{"s":4,"x":1,"y":-0.58},{"s":4,"x":2,"y":-0.45},{"s":4,"x":3,"y":-0.3},{"s":4,"x":4,"y":-0.25},{"s":4,"x":5,"y":-0.2},{"s":4,"x":6,"y":-0.16},{"s":4,"x":7,"y":-0.13},{"s":4,"x":8,"y":-0.1},{"s":4,"x":9,"y":-0.08},{"s":4,"x":10,"y":-0.07},{"s":4,"x":12,"y":-0.05},{"s":4,"x":14,"y":-0.04},{"s":4,"x":16,"y":-0.03},{"s":4,"x":18,"y":-0.02},{"s":4,"x":20,"y":-0.01},{"s":4,"x":22,"y":0},{"s":4,"x":25,"y":0},{"s":4,"x":30,"y":0.01},{"s":4,"x":35,"y":0},{"s":4,"x":40,"y":0.02},{"s":4,"x":45,"y":0.01},{"s":4,"x":50,"y":0},{"s":4,"x":55,"y":0.01},{"s":4,"x":60,"y":0.02},{"s":4,"x":65,"y":0.01},{"s":4,"x":70,"y":0.02},{"s":4,"x":75,"y":0.01},{"s":4,"x":80,"y":0.03},{"s":4,"x":85,"y":0.02},{"s":4,"x":90,"y":0.01},
{"s":5,"x":1,"y":-0.66},{"s":5,"x":2,"y":-0.58},{"s":5,"x":3,"y":-0.46},{"s":5,"x":4,"y":-0.35},{"s":5,"x":5,"y":-0.27},{"s":5,"x":6,"y":-0.22},{"s":5,"x":7,"y":-0.18},{"s":5,"x":8,"y":-0.15},{"s":5,"x":9,"y":-0.12},{"s":5,"x":10,"y":-0.1},{"s":5,"x":12,"y":-0.08},{"s":5,"x":14,"y":-0.06},{"s":5,"x":16,"y":-0.05},{"s":5,"x":18,"y":-0.04},{"s":5,"x":20,"y":-0.03},{"s":5,"x":22,"y":-0.02},{"s":5,"x":25,"y":-0.01},{"s":5,"x":30,"y":-0.02},{"s":5,"x":35,"y":0},{"s":5,"x":40,"y":-0.01},{"s":5,"x":45,"y":0},{"s":5,"x":50,"y":0.01},{"s":5,"x":55,"y":0},{"s":5,"x":60,"y":-0.01},{"s":5,"x":65,"y":0},{"s":5,"x":70,"y":0.01},{"s":5,"x":75,"y":0},{"s":5,"x":80,"y":0.01},{"s":5,"x":85,"y":0.02},{"s":5,"x":90,"y":0},
{"s":6,"x":1,"y":-0.64},{"s":6,"x":2,"y":-0.55},{"s":6,"x":3,"y":-0.42},{"s":6,"x":4,"y":-0.32},{"s":6,"x":5,"y":-0.24},{"s":6,"x":6,"y":-0.19},{"s":6,"x":7,"y":-0.15},{"s":6,"x":8,"y":-0.12},{"s":6,"x":9,"y":-0.1},{"s":6,"x":10,"y":-0.08},{"s":6,"x":12,"y":-0.06},{"s":6,"x":14,"y":-0.05},{"s":6,"x":16,"y":-0.03},{"s":6,"x":18,"y":-0.02},{"s":6,"x":20,"y":-0.02},{"s":6,"x":22,"y":-0.01},{"s":6,"x":25,"y":0},{"s":6,"x":30,"y":0},{"s":6,"x":35,"y":0.01},{"s":6,"x":40,"y":0},{"s":6,"x":45,"y":0.01},{"s":6,"x":50,"y":0.02},{"s":6,"x":55,"y":0},{"s":6,"x":60,"y":0.01},{"s":6,"x":65,"y":-0.04},{"s":6,"x":70,"y":0},{"s":6,"x":75,"y":0.01},{"s":6,"x":80,"y":0},{"s":6,"x":85,"y":0.01},{"s":6,"x":90,"y":0.02},
{"s":7,"x":1,"y":-0.74},{"s":7,"x":2,"y":-0.66},{"s":7,"x":3,"y":-0.55},{"s":7,"x":4,"y":-0.44},{"s":7,"x":5,"y":-0.34},{"s":7,"x":6,"y":-0.27},{"s":7,"x":7,"y":-0.21},{"s":7,"x":8,"y":-0.17},{"s":7,"x":9,"y":-0.14},{"s":7,"x":10,"y":-0.11},{"s":7,"x":12,"y":-0.08},{"s":7,"x":14,"y":-0.06},{"s":7,"x":16,"y":-0.05},{"s":7,"x":18,"y":-0.04},{"s":7,"x":20,"y":-0.03},{"s":7,"x":22,"y":-0.02},{"s":7,"x":25,"y":-0.02},{"s":7,"x":30,"y":-0.01},{"s":7,"x":35,"y":-0.01},{"s":7,"x":40,"y":0},{"s":7,"x":45,"y":-0.01},{"s":7,"x":50,"y":0},{"s":7,"x":55,"y":0},{"s":7,"x":60,"y":0.01},{"s":7,"x":65,"y":0},{"s":7,"x":70,"y":0},{"s":7,"x":75,"y":0.02},{"s":7,"x":80,"y":0.01},{"s":7,"x":85,"y":0},{"s":7,"x":90,"y":-0.01},
{"s":8,"x":1,"y":-0.68},{"s":8,"x":2,"y":-0.6},{"s":8,"x":3,"y":-0.48},{"s":8,"x":4,"y":-0.37},{"s":8,"x":5,"y":-0.29},{"s":8,"x":6,"y":-0.23},{"s":8,"x":7,"y":-0.18},{"s":8,"x":8,"y":-0.14},{"s":8,"x":9,"y":-0.11},{"s":8,"x":10,"y":-0.09},{"s":8,"x":12,"y":-0.07},{"s":8,"x":14,"y":-0.05},{"s":8,"x":16,"y":-0.04},{"s":8,"x":18,"y":-0.02},{"s":8,"x":20,"y":-0.01},{"s":8,"x":22,"y":-0.01},{"s":8,"x":25,"y":0.01},{"s":8,"x":30,"y":0},{"s":8,"x":35,"y":0},{"s":8,"x":40,"y":0.01},{"s":8,"x":45,"y":0.02},{"s":8,"x":50,"y":0.01},{"s":8,"x":55,"y":0.01},{"s":8,"x":60,"y":0},{"s":8,"x":65,"y":0.01},{"s":8,"x":70,"y":0.02},{"s":8,"x":75,"y":0},{"s":8,"x":80,"y":0.02},{"s":8,"x":85,"y":0.01},{"s":8,"x":90,"y":0.03}
 ],
 "pitL":[
{"s":1,"x":0,"y":0.03},{"s":1,"x":0.05,"y":0.08},{"s":1,"x":0.1,"y":0.13},{"s":1,"x":0.15,"y":0.17},{"s":1,"x":0.2,"y":0.22},{"s":1,"x":0.25,"y":0.27},{"s":1,"x":0.3,"y":0.31},{"s":1,"x":0.35,"y":0.36},{"s":1,"x":0.4,"y":0.4},{"s":1,"x":0.45,"y":0.45},{"s":1,"x":0.5,"y":0.5},{"s":1,"x":0.55,"y":0.54},{"s":1,"x":0.6,"y":0.59},{"s":1,"x":0.65,"y":0.63},{"s":1,"x":0.7,"y":0.68},{"s":1,"x":0.75,"y":0.72},{"s":1,"x":0.8,"y":0.77},{"s":1,"x":0.85,"y":0.81},{"s":1,"x":0.9,"y":0.86},{"s":1,"x":0.95,"y":0.91},{"s":1,"x":0.99,"y":0.95},
{"s":2,"x":0,"y":0.06},{"s":2,"x":0.05,"y":0.11},{"s":2,"x":0.1,"y":0.16},{"s":2,"x":0.15,"y":0.21},{"s":2,"x":0.2,"y":0.25},{"s":2,"x":0.25,"y":0.3},{"s":2,"x":0.3,"y":0.34},{"s":2,"x":0.35,"y":0.39},{"s":2,"x":0.4,"y":0.43},{"s":2,"x":0.45,"y":0.48},{"s":2,"x":0.5,"y":0.52},{"s":2,"x":0.55,"y":0.57},{"s":2,"x":0.6,"y":0.61},{"s":2,"x":0.65,"y":0.66},{"s":2,"x":0.7,"y":0.7},{"s":2,"x":0.75,"y":0.75},{"s":2,"x":0.8,"y":0.79},{"s":2,"x":0.85,"y":0.84},{"s":2,"x":0.9,"y":0.88},{"s":2,"x":0.95,"y":0.93},{"s":2,"x":0.99,"y":0.97},
{"s":3,"x":0,"y":0.1},{"s":3,"x":0.05,"y":0.14},{"s":3,"x":0.1,"y":0.19},{"s":3,"x":0.15,"y":0.23},{"s":3,"x":0.2,"y":0.28},{"s":3,"x":0.25,"y":0.32},{"s":3,"x":0.3,"y":0.37},{"s":3,"x":0.35,"y":0.41},{"s":3,"x":0.4,"y":0.46},{"s":3,"x":0.45,"y":0.5},{"s":3,"x":0.5,"y":0.55},{"s":3,"x":0.55,"y":0.59},{"s":3,"x":0.6,"y":0.64},{"s":3,"x":0.65,"y":0.68},{"s":3,"x":0.7,"y":0.73},{"s":3,"x":0.75,"y":0.77},{"s":3,"x":0.8,"y":0.82},{"s":3,"x":0.85,"y":0.86},{"s":3,"x":0.9,"y":0.9},{"s":3,"x":0.95,"y":0.94},{"s":3,"x":0.99,"y":0.98},
{"s":4,"x":0,"y":0.02},{"s":4,"x":0.05,"y":0.06},{"s":4,"x":0.1,"y":0.11},{"s":4,"x":0.15,"y":0.16},{"s":4,"x":0.2,"y":0.2},{"s":4,"x":0.25,"y":0.25},{"s":4,"x":0.3,"y":0.3},{"s":4,"x":0.35,"y":0.34},{"s":4,"x":0.4,"y":0.39},{"s":4,"x":0.45,"y":0.44},{"s":4,"x":0.5,"y":0.48},{"s":4,"x":0.55,"y":0.53},{"s":4,"x":0.6,"y":0.57},{"s":4,"x":0.65,"y":0.62},{"s":4,"x":0.7,"y":0.66},{"s":4,"x":0.75,"y":0.71},{"s":4,"x":0.8,"y":0.75},{"s":4,"x":0.85,"y":0.8},{"s":4,"x":0.9,"y":0.84},{"s":4,"x":0.95,"y":0.89},{"s":4,"x":0.99,"y":0.94},
{"s":5,"x":0,"y":0.13},{"s":5,"x":0.05,"y":0.17},{"s":5,"x":0.1,"y":0.21},{"s":5,"x":0.15,"y":0.25},{"s":5,"x":0.2,"y":0.29},{"s":5,"x":0.25,"y":0.33},{"s":5,"x":0.3,"y":0.38},{"s":5,"x":0.35,"y":0.42},{"s":5,"x":0.4,"y":0.46},{"s":5,"x":0.45,"y":0.51},{"s":5,"x":0.5,"y":0.55},{"s":5,"x":0.55,"y":0.6},{"s":5,"x":0.6,"y":0.64},{"s":5,"x":0.65,"y":0.68},{"s":5,"x":0.7,"y":0.72},{"s":5,"x":0.75,"y":0.77},{"s":5,"x":0.8,"y":0.81},{"s":5,"x":0.85,"y":0.85},{"s":5,"x":0.9,"y":0.89},{"s":5,"x":0.95,"y":0.93},{"s":5,"x":0.99,"y":0.97},
{"s":6,"x":0,"y":0.05},{"s":6,"x":0.05,"y":0.09},{"s":6,"x":0.1,"y":0.14},{"s":6,"x":0.15,"y":0.19},{"s":6,"x":0.2,"y":0.24},{"s":6,"x":0.25,"y":0.28},{"s":6,"x":0.3,"y":0.33},{"s":6,"x":0.35,"y":0.37},{"s":6,"x":0.4,"y":0.42},{"s":6,"x":0.45,"y":0.46},{"s":6,"x":0.5,"y":0.51},{"s":6,"x":0.55,"y":0.55},{"s":6,"x":0.6,"y":0.6},{"s":6,"x":0.65,"y":0.64},{"s":6,"x":0.7,"y":0.69},{"s":6,"x":0.75,"y":0.74},{"s":6,"x":0.8,"y":0.78},{"s":6,"x":0.85,"y":0.83},{"s":6,"x":0.9,"y":0.87},{"s":6,"x":0.95,"y":0.92},{"s":6,"x":0.99,"y":0.96},
{"s":7,"x":0,"y":0.08},{"s":7,"x":0.05,"y":0.12},{"s":7,"x":0.1,"y":0.17},{"s":7,"x":0.15,"y":0.22},{"s":7,"x":0.2,"y":0.26},{"s":7,"x":0.25,"y":0.31},{"s":7,"x":0.3,"y":0.35},{"s":7,"x":0.35,"y":0.4},{"s":7,"x":0.4,"y":0.44},{"s":7,"x":0.45,"y":0.49},{"s":7,"x":0.5,"y":0.53},{"s":7,"x":0.55,"y":0.58},{"s":7,"x":0.6,"y":0.62},{"s":7,"x":0.65,"y":0.67},{"s":7,"x":0.7,"y":0.71},{"s":7,"x":0.75,"y":0.76},{"s":7,"x":0.8,"y":0.8},{"s":7,"x":0.85,"y":0.85},{"s":7,"x":0.9,"y":0.89},{"s":7,"x":0.95,"y":0.93},{"s":7,"x":0.99,"y":0.96},
{"s":8,"x":0,"y":0.25},{"s":8,"x":0.05,"y":0.26},{"s":8,"x":0.1,"y":0.29},{"s":8,"x":0.15,"y":0.32},{"s":8,"x":0.2,"y":0.34},{"s":8,"x":0.25,"y":0.36},{"s":8,"x":0.3,"y":0.39},{"s":8,"x":0.35,"y":0.41},{"s":8,"x":0.4,"y":0.45},{"s":8,"x":0.45,"y":0.49},{"s":8,"x":0.5,"y":0.53},{"s":8,"x":0.55,"y":0.57},{"s":8,"x":0.6,"y":0.62},{"s":8,"x":0.65,"y":0.66},{"s":8,"x":0.7,"y":0.7},{"s":8,"x":0.75,"y":0.75},{"s":8,"x":0.8,"y":0.79},{"s":8,"x":0.85,"y":0.84},{"s":8,"x":0.9,"y":0.88},{"s":8,"x":0.95,"y":0.92},{"s":8,"x":0.99,"y":0.96}
 ],
 "pitR":[
{"s":1,"x":0,"y":0.07},{"s":1,"x":0.067,"y":0.12},{"s":1,"x":0.133,"y":0.18},{"s":1,"x":0.2,"y":0.24},{"s":1,"x":0.267,"y":0.3},{"s":1,"x":0.333,"y":0.35},{"s":1,"x":0.4,"y":0.41},{"s":1,"x":0.467,"y":0.46},{"s":1,"x":0.533,"y":0.52},{"s":1,"x":0.6,"y":0.57},{"s":1,"x":0.667,"y":0.62},{"s":1,"x":0.733,"y":0.68},{"s":1,"x":0.8,"y":0.73},{"s":1,"x":0.867,"y":0.79},{"s":1,"x":0.933,"y":0.85},{"s":1,"x":0.99,"y":0.9},
{"s":2,"x":0,"y":0.1},{"s":2,"x":0.067,"y":0.15},{"s":2,"x":0.133,"y":0.21},{"s":2,"x":0.2,"y":0.27},{"s":2,"x":0.267,"y":0.33},{"s":2,"x":0.333,"y":0.38},{"s":2,"x":0.4,"y":0.44},{"s":2,"x":0.467,"y":0.49},{"s":2,"x":0.533,"y":0.54},{"s":2,"x":0.6,"y":0.6},{"s":2,"x":0.667,"y":0.65},{"s":2,"x":0.733,"y":0.7},{"s":2,"x":0.8,"y":0.76},{"s":2,"x":0.867,"y":0.81},{"s":2,"x":0.933,"y":0.87},{"s":2,"x":0.99,"y":0.92},
{"s":3,"x":0,"y":0.14},{"s":3,"x":0.067,"y":0.19},{"s":3,"x":0.133,"y":0.25},{"s":3,"x":0.2,"y":0.3},{"s":3,"x":0.267,"y":0.35},{"s":3,"x":0.333,"y":0.41},{"s":3,"x":0.4,"y":0.46},{"s":3,"x":0.467,"y":0.51},{"s":3,"x":0.533,"y":0.56},{"s":3,"x":0.6,"y":0.61},{"s":3,"x":0.667,"y":0.66},{"s":3,"x":0.733,"y":0.71},{"s":3,"x":0.8,"y":0.77},{"s":3,"x":0.867,"y":0.82},{"s":3,"x":0.933,"y":0.88},{"s":3,"x":0.99,"y":0.93},
{"s":4,"x":0,"y":0.05},{"s":4,"x":0.067,"y":0.1},{"s":4,"x":0.133,"y":0.16},{"s":4,"x":0.2,"y":0.22},{"s":4,"x":0.267,"y":0.28},{"s":4,"x":0.333,"y":0.33},{"s":4,"x":0.4,"y":0.39},{"s":4,"x":0.467,"y":0.44},{"s":4,"x":0.533,"y":0.5},{"s":4,"x":0.6,"y":0.55},{"s":4,"x":0.667,"y":0.61},{"s":4,"x":0.733,"y":0.66},{"s":4,"x":0.8,"y":0.72},{"s":4,"x":0.867,"y":0.77},{"s":4,"x":0.933,"y":0.83},{"s":4,"x":0.99,"y":0.89},
{"s":5,"x":0,"y":0.25},{"s":5,"x":0.067,"y":0.27},{"s":5,"x":0.133,"y":0.3},{"s":5,"x":0.2,"y":0.34},{"s":5,"x":0.267,"y":0.38},{"s":5,"x":0.333,"y":0.43},{"s":5,"x":0.4,"y":0.47},{"s":5,"x":0.467,"y":0.52},{"s":5,"x":0.533,"y":0.57},{"s":5,"x":0.6,"y":0.62},{"s":5,"x":0.667,"y":0.67},{"s":5,"x":0.733,"y":0.72},{"s":5,"x":0.8,"y":0.77},{"s":5,"x":0.867,"y":0.83},{"s":5,"x":0.933,"y":0.88},{"s":5,"x":0.99,"y":0.93},
{"s":6,"x":0,"y":0.12},{"s":6,"x":0.067,"y":0.17},{"s":6,"x":0.133,"y":0.22},{"s":6,"x":0.2,"y":0.28},{"s":6,"x":0.267,"y":0.33},{"s":6,"x":0.333,"y":0.38},{"s":6,"x":0.4,"y":0.43},{"s":6,"x":0.467,"y":0.48},{"s":6,"x":0.533,"y":0.53},{"s":6,"x":0.6,"y":0.58},{"s":6,"x":0.667,"y":0.63},{"s":6,"x":0.733,"y":0.69},{"s":6,"x":0.8,"y":0.74},{"s":6,"x":0.867,"y":0.8},{"s":6,"x":0.933,"y":0.86},{"s":6,"x":0.99,"y":0.91},
{"s":7,"x":0,"y":0.08},{"s":7,"x":0.067,"y":0.13},{"s":7,"x":0.133,"y":0.19},{"s":7,"x":0.2,"y":0.25},{"s":7,"x":0.267,"y":0.31},{"s":7,"x":0.333,"y":0.36},{"s":7,"x":0.4,"y":0.42},{"s":7,"x":0.467,"y":0.47},{"s":7,"x":0.533,"y":0.53},{"s":7,"x":0.6,"y":0.58},{"s":7,"x":0.667,"y":0.63},{"s":7,"x":0.733,"y":0.69},{"s":7,"x":0.8,"y":0.74},{"s":7,"x":0.867,"y":0.8},{"s":7,"x":0.933,"y":0.85},{"s":7,"x":0.99,"y":0.9},
{"s":8,"x":0,"y":0.16},{"s":8,"x":0.067,"y":0.21},{"s":8,"x":0.133,"y":0.26},{"s":8,"x":0.2,"y":0.31},{"s":8,"x":0.267,"y":0.36},{"s":8,"x":0.333,"y":0.4},{"s":8,"x":0.4,"y":0.45},{"s":8,"x":0.467,"y":0.5},{"s":8,"x":0.533,"y":0.55},{"s":8,"x":0.6,"y":0.6},{"s":8,"x":0.667,"y":0.65},{"s":8,"x":0.733,"y":0.7},{"s":8,"x":0.8,"y":0.75},{"s":8,"x":0.867,"y":0.81},{"s":8,"x":0.933,"y":0.86},{"s":8,"x":0.99,"y":0.91}
 ]
},
"concat":[
 {"width":266,"height":211,"data":{"values":[{}]},"mark":{"type":"text","text":""},"encoding":{}},
 {"width":283,"height":211,"layer":[
  {"data":{"values":[{"t":"Precipitation"}]},"mark":{"type":"text","font":"Lato","fontSize":46,"color":"#114B8C","align":"center","baseline":"middle"},"encoding":{"text":{"field":"t"},"x":{"datum":0.459,"type":"quantitative","scale":{"domain":[0,1],"nice":false,"zero":false},"axis":null},"y":{"datum":1,"type":"quantitative","scale":{"domain":[-0.633,3.673],"reverse":true,"nice":false,"zero":false},"axis":null}}},
  {"data":{"values":[{"t":"climatology"}]},"mark":{"type":"text","font":"Lato","fontSize":48,"color":"#114B8C","align":"center","baseline":"middle"},"encoding":{"text":{"field":"t"},"x":{"datum":0.459,"type":"quantitative","scale":{"domain":[0,1],"nice":false,"zero":false},"axis":null},"y":{"datum":2,"type":"quantitative","scale":{"domain":[-0.633,3.673],"reverse":true,"nice":false,"zero":false},"axis":null}}},
  {"data":{"values":[{"t":"+ Model"}]},"mark":{"type":"text","font":"Lato","fontSize":42,"fontStyle":"italic","color":"#7F7F7F","align":"center","baseline":"middle"},"encoding":{"text":{"field":"t"},"x":{"datum":0.459,"type":"quantitative","scale":{"domain":[0,1],"nice":false,"zero":false},"axis":null},"y":{"datum":3,"type":"quantitative","scale":{"domain":[-0.633,3.673],"reverse":true,"nice":false,"zero":false},"axis":null}}}
 ]},
 {"width":283,"height":211,"layer":[
  {"data":{"values":[{"t":"Selected"}]},"mark":{"type":"text","font":"Lato","fontSize":40,"fontStyle":"italic","color":"#B5177B","align":"center","baseline":"middle"},"encoding":{"text":{"field":"t"},"x":{"datum":0.509,"type":"quantitative","scale":{"domain":[0,1],"nice":false,"zero":false},"axis":null},"y":{"datum":0.04,"type":"quantitative","scale":{"domain":[-0.49,3.816],"reverse":true,"nice":false,"zero":false},"axis":null}}},
  {"data":{"values":[{"t":"Precipitation"}]},"mark":{"type":"text","font":"Lato","fontSize":46,"color":"#114B8C","align":"center","baseline":"middle"},"encoding":{"text":{"field":"t"},"x":{"datum":0.509,"type":"quantitative","scale":{"domain":[0,1],"nice":false,"zero":false},"axis":null},"y":{"datum":1,"type":"quantitative","scale":{"domain":[-0.49,3.816],"reverse":true,"nice":false,"zero":false},"axis":null}}},
  {"data":{"values":[{"t":"climatology"}]},"mark":{"type":"text","font":"Lato","fontSize":48,"color":"#114B8C","align":"center","baseline":"middle"},"encoding":{"text":{"field":"t"},"x":{"datum":0.509,"type":"quantitative","scale":{"domain":[0,1],"nice":false,"zero":false},"axis":null},"y":{"datum":2,"type":"quantitative","scale":{"domain":[-0.49,3.816],"reverse":true,"nice":false,"zero":false},"axis":null}}},
  {"data":{"values":[{"t":"+ Model"}]},"mark":{"type":"text","font":"Lato","fontSize":42,"fontStyle":"italic","color":"#7F7F7F","align":"center","baseline":"middle"},"encoding":{"text":{"field":"t"},"x":{"datum":0.509,"type":"quantitative","scale":{"domain":[0,1],"nice":false,"zero":false},"axis":null},"y":{"datum":3,"type":"quantitative","scale":{"domain":[-0.49,3.816],"reverse":true,"nice":false,"zero":false},"axis":null}}}
 ]},
 {"width":243,"height":211,"data":{"values":[{}]},"mark":{"type":"text","text":""},"encoding":{}},

 {"width":266,"height":327,"data":{"values":[{"t":"CRPSS"}]},"mark":{"type":"text","font":"Lato","fontSize":46,"color":"#114B8C","align":"center","baseline":"middle"},"encoding":{"text":{"field":"t"},"x":{"datum":0.32,"type":"quantitative","scale":{"domain":[0,1],"nice":false,"zero":false},"axis":null},"y":{"datum":0,"type":"quantitative","scale":{"domain":[-1.2315,0.7],"nice":false,"zero":false},"axis":null}}},
 {"width":283,"height":237,"view":{"stroke":"black","strokeWidth":1.5},"layer":[
  {"data":{"name":"gridLead"},"mark":{"type":"rule","color":"#d0d0d0","strokeDash":[9,6],"strokeWidth":1.3},"encoding":{"x":{"field":"g","type":"quantitative","scale":{"domain":[-2.2,93.8],"nice":false,"zero":false},"axis":{"values":[0,20,40,60,80],"format":"d","title":"Lead times","labelPadding":13,"titlePadding":24}}}},
  {"data":{"name":"gridC"},"mark":{"type":"rule","color":"#d0d0d0","strokeDash":[9,6],"strokeWidth":1.3},"encoding":{"y":{"field":"g","type":"quantitative","scale":{"domain":[-0.7,0.7],"nice":false,"zero":false},"axis":{"values":[-0.6,-0.4,-0.2,0,0.2,0.4,0.6],"format":".1f","title":null,"labelPadding":13}}}},
  {"data":{"name":"crpssL"},"mark":{"type":"line","color":"#12908e","opacity":0.5,"strokeWidth":1.4},"encoding":{"x":{"field":"x","type":"quantitative","scale":{"domain":[-2.2,93.8],"nice":false,"zero":false},"axis":{"values":[0,20,40,60,80],"format":"d","title":"Lead times","labelPadding":13,"titlePadding":24}},"y":{"field":"y","type":"quantitative","scale":{"domain":[-0.7,0.7],"nice":false,"zero":false},"axis":{"values":[-0.6,-0.4,-0.2,0,0.2,0.4,0.6],"format":".1f","title":null,"labelPadding":13}},"detail":{"field":"s"}}},
  {"data":{"values":[{}]},"mark":{"type":"rule","color":"#333333","strokeWidth":1.5},"encoding":{"y":{"datum":0,"type":"quantitative","scale":{"domain":[-0.7,0.7],"nice":false,"zero":false},"axis":{"values":[-0.6,-0.4,-0.2,0,0.2,0.4,0.6],"format":".1f","title":null,"labelPadding":13}}}}
 ]},
 {"width":283,"height":237,"view":{"stroke":"black","strokeWidth":1.5},"layer":[
  {"data":{"name":"gridLead"},"mark":{"type":"rule","color":"#d0d0d0","strokeDash":[9,6],"strokeWidth":1.3},"encoding":{"x":{"field":"g","type":"quantitative","scale":{"domain":[-2.2,93.8],"nice":false,"zero":false},"axis":{"values":[0,20,40,60,80],"format":"d","title":"Lead times","labelPadding":13,"titlePadding":24}}}},
  {"data":{"name":"gridC"},"mark":{"type":"rule","color":"#d0d0d0","strokeDash":[9,6],"strokeWidth":1.3},"encoding":{"y":{"field":"g","type":"quantitative","scale":{"domain":[-0.7,0.7],"nice":false,"zero":false},"axis":null}}},
  {"data":{"name":"crpssR"},"mark":{"type":"line","color":"#12908e","opacity":0.5,"strokeWidth":1.4},"encoding":{"x":{"field":"x","type":"quantitative","scale":{"domain":[-2.2,93.8],"nice":false,"zero":false},"axis":{"values":[0,20,40,60,80],"format":"d","title":"Lead times","labelPadding":13,"titlePadding":24}},"y":{"field":"y","type":"quantitative","scale":{"domain":[-0.7,0.7],"nice":false,"zero":false},"axis":null},"detail":{"field":"s"}}},
  {"data":{"values":[{}]},"mark":{"type":"rule","color":"#333333","strokeWidth":1.5},"encoding":{"y":{"datum":0,"type":"quantitative","scale":{"domain":[-0.7,0.7],"nice":false,"zero":false},"axis":null}}}
 ]},
 {"width":243,"height":237,"layer":[
  {"data":{"values":[{}]},"mark":{"type":"rule","color":"black","strokeWidth":2,"strokeDash":[8,7]},"encoding":{"x":{"datum":-0.078,"type":"quantitative","scale":{"domain":[0,1],"nice":false,"zero":false},"axis":null},"x2":{"datum":1},"y":{"datum":0,"type":"quantitative","scale":{"domain":[-0.7,0.7],"nice":false,"zero":false},"axis":null}}},
  {"data":{"values":[{"t":"> Seas"}]},"mark":{"type":"text","font":"Lato","fontSize":48,"color":"#A0C10E","align":"center","baseline":"middle"},"encoding":{"text":{"field":"t"},"x":{"datum":0.453,"type":"quantitative","scale":{"domain":[0,1],"nice":false,"zero":false},"axis":null},"y":{"datum":0.29,"type":"quantitative","scale":{"domain":[-0.7,0.7],"nice":false,"zero":false},"axis":null}}},
  {"data":{"values":[{"t":"< Seas"}]},"mark":{"type":"text","font":"Lato","fontSize":48,"color":"#A0C10E","align":"center","baseline":"middle"},"encoding":{"text":{"field":"t"},"x":{"datum":0.453,"type":"quantitative","scale":{"domain":[0,1],"nice":false,"zero":false},"axis":null},"y":{"datum":-0.325,"type":"quantitative","scale":{"domain":[-0.7,0.7],"nice":false,"zero":false},"axis":null}}}
 ]},

 {"width":266,"height":306,"data":{"values":[{"t":"PIT"}]},"mark":{"type":"text","font":"Lato","fontSize":46,"color":"#114B8C","align":"center","baseline":"middle"},"encoding":{"text":{"field":"t"},"x":{"datum":0.538,"type":"quantitative","scale":{"domain":[0,1],"nice":false,"zero":false},"axis":null},"y":{"datum":0.49,"type":"quantitative","scale":{"domain":[-0.3846,1.04],"nice":false,"zero":false},"axis":null}}},
 {"width":283,"height":232,"view":{"stroke":"black","strokeWidth":1.5},"layer":[
  {"data":{"name":"gridP"},"mark":{"type":"rule","color":"#d0d0d0","strokeDash":[9,6],"strokeWidth":1.3},"encoding":{"x":{"field":"g","type":"quantitative","scale":{"domain":[-0.04,1.04],"nice":false,"zero":false},"axis":{"values":[0,0.2,0.4,0.6,0.8,1],"format":".1f","title":null,"labelPadding":20}}}},
  {"data":{"name":"gridP"},"mark":{"type":"rule","color":"#d0d0d0","strokeDash":[9,6],"strokeWidth":1.3},"encoding":{"y":{"field":"g","type":"quantitative","scale":{"domain":[-0.04,1.04],"nice":false,"zero":false},"axis":{"values":[0,0.2,0.4,0.6,0.8,1],"format":".1f","title":null,"labelPadding":12}}}},
  {"data":{"name":"pitL"},"mark":{"type":"line","color":"#2222c0","opacity":0.45,"strokeWidth":1.3,"interpolate":"step-after"},"encoding":{"x":{"field":"x","type":"quantitative","scale":{"domain":[-0.04,1.04],"nice":false,"zero":false},"axis":{"values":[0,0.2,0.4,0.6,0.8,1],"format":".1f","title":null,"labelPadding":20}},"y":{"field":"y","type":"quantitative","scale":{"domain":[-0.04,1.04],"nice":false,"zero":false},"axis":{"values":[0,0.2,0.4,0.6,0.8,1],"format":".1f","title":null,"labelPadding":12}},"detail":{"field":"s"}}},
  {"data":{"name":"pitRef"},"mark":{"type":"line","color":"black","strokeWidth":1.4},"encoding":{"x":{"field":"x","type":"quantitative","scale":{"domain":[-0.04,1.04],"nice":false,"zero":false},"axis":{"values":[0,0.2,0.4,0.6,0.8,1],"format":".1f","title":null,"labelPadding":20}},"y":{"field":"y","type":"quantitative","scale":{"domain":[-0.04,1.04],"nice":false,"zero":false},"axis":{"values":[0,0.2,0.4,0.6,0.8,1],"format":".1f","title":null,"labelPadding":12}},"detail":{"field":"k"},"strokeDash":{"field":"k","type":"nominal","scale":{"domain":["a","b","c"],"range":[[1,0],[7,5],[7,5]]},"legend":null}}}
 ]},
 {"width":283,"height":232,"view":{"stroke":"black","strokeWidth":1.5},"layer":[
  {"data":{"name":"gridP"},"mark":{"type":"rule","color":"#d0d0d0","strokeDash":[9,6],"strokeWidth":1.3},"encoding":{"x":{"field":"g","type":"quantitative","scale":{"domain":[-0.04,1.04],"nice":false,"zero":false},"axis":{"values":[0,0.2,0.4,0.6,0.8,1],"format":".1f","title":null,"labelPadding":20}}}},
  {"data":{"name":"gridP"},"mark":{"type":"rule","color":"#d0d0d0","strokeDash":[9,6],"strokeWidth":1.3},"encoding":{"y":{"field":"g","type":"quantitative","scale":{"domain":[-0.04,1.04],"nice":false,"zero":false},"axis":null}}},
  {"data":{"name":"pitR"},"mark":{"type":"line","color":"#2222c0","opacity":0.45,"strokeWidth":1.3,"interpolate":"step-after"},"encoding":{"x":{"field":"x","type":"quantitative","scale":{"domain":[-0.04,1.04],"nice":false,"zero":false},"axis":{"values":[0,0.2,0.4,0.6,0.8,1],"format":".1f","title":null,"labelPadding":20}},"y":{"field":"y","type":"quantitative","scale":{"domain":[-0.04,1.04],"nice":false,"zero":false},"axis":null},"detail":{"field":"s"}}},
  {"data":{"name":"pitRef"},"mark":{"type":"line","color":"black","strokeWidth":1.4},"encoding":{"x":{"field":"x","type":"quantitative","scale":{"domain":[-0.04,1.04],"nice":false,"zero":false},"axis":{"values":[0,0.2,0.4,0.6,0.8,1],"format":".1f","title":null,"labelPadding":20}},"y":{"field":"y","type":"quantitative","scale":{"domain":[-0.04,1.04],"nice":false,"zero":false},"axis":null},"detail":{"field":"k"},"strokeDash":{"field":"k","type":"nominal","scale":{"domain":["a","b","c"],"range":[[1,0],[7,5],[7,5]]},"legend":null}}}
 ]},
 {"width":243,"height":232,"layer":[
  {"data":{"values":[{"t":"Close"}]},"mark":{"type":"text","font":"Lato","fontSize":48,"color":"#A0C10E","align":"center","baseline":"middle"},"encoding":{"text":{"field":"t"},"x":{"datum":0.543,"type":"quantitative","scale":{"domain":[0,1],"nice":false,"zero":false},"axis":null},"y":{"datum":0.626,"type":"quantitative","scale":{"domain":[-0.04,1.04],"nice":false,"zero":false},"axis":null}}},
  {"data":{"values":[{"t":"to 1:1"}]},"mark":{"type":"text","font":"Lato","fontSize":48,"color":"#A0C10E","align":"center","baseline":"middle"},"encoding":{"text":{"field":"t"},"x":{"datum":0.543,"type":"quantitative","scale":{"domain":[0,1],"nice":false,"zero":false},"axis":null},"y":{"datum":0.356,"type":"quantitative","scale":{"domain":[-0.04,1.04],"nice":false,"zero":false},"axis":null}}}
 ]},

 {"width":266,"height":237,"data":{"values":[{"t":"IQR"}]},"mark":{"type":"text","font":"Lato","fontSize":46,"color":"#114B8C","align":"center","baseline":"middle"},"encoding":{"text":{"field":"t"},"x":{"datum":0.425,"type":"quantitative","scale":{"domain":[0,1],"nice":false,"zero":false},"axis":null},"y":{"datum":0.045,"type":"quantitative","scale":{"domain":[-1.065,1.08],"nice":false,"zero":false},"axis":null}}},
 {"width":283,"height":237,"view":{"stroke":"black","strokeWidth":1.5},"layer":[
  {"data":{"name":"gridLead"},"mark":{"type":"rule","color":"#d0d0d0","strokeDash":[9,6],"strokeWidth":1.3},"encoding":{"x":{"field":"g","type":"quantitative","scale":{"domain":[-1.5,94.3],"nice":false,"zero":false},"axis":{"values":[0,20,40,60,80],"format":"d","title":"Lead times","labelPadding":14,"titlePadding":24}}}},
  {"data":{"name":"gridI"},"mark":{"type":"rule","color":"#d0d0d0","strokeDash":[9,6],"strokeWidth":1.3},"encoding":{"y":{"field":"g","type":"quantitative","scale":{"domain":[-1.065,1.08],"nice":false,"zero":false},"axis":{"values":[-1,-0.5,0,0.5,1],"format":".1f","title":null,"labelPadding":14}}}},
  {"data":{"name":"iqrL"},"mark":{"type":"line","color":"#F0A010","opacity":0.55,"strokeWidth":1.4},"encoding":{"x":{"field":"x","type":"quantitative","scale":{"domain":[-1.5,94.3],"nice":false,"zero":false},"axis":{"values":[0,20,40,60,80],"format":"d","title":"Lead times","labelPadding":14,"titlePadding":24}},"y":{"field":"y","type":"quantitative","scale":{"domain":[-1.065,1.08],"nice":false,"zero":false},"axis":{"values":[-1,-0.5,0,0.5,1],"format":".1f","title":null,"labelPadding":14}},"detail":{"field":"s"}}},
  {"data":{"values":[{}]},"mark":{"type":"rule","color":"#333333","strokeWidth":1.5},"encoding":{"y":{"datum":0,"type":"quantitative","scale":{"domain":[-1.065,1.08],"nice":false,"zero":false},"axis":{"values":[-1,-0.5,0,0.5,1],"format":".1f","title":null,"labelPadding":14}}}}
 ]},
 {"width":283,"height":237,"view":{"stroke":"black","strokeWidth":1.5},"layer":[
  {"data":{"name":"gridLead"},"mark":{"type":"rule","color":"#d0d0d0","strokeDash":[9,6],"strokeWidth":1.3},"encoding":{"x":{"field":"g","type":"quantitative","scale":{"domain":[-1.5,94.3],"nice":false,"zero":false},"axis":{"values":[0,20,40,60,80],"format":"d","title":"Lead times","labelPadding":14,"titlePadding":24}}}},
  {"data":{"name":"gridI"},"mark":{"type":"rule","color":"#d0d0d0","strokeDash":[9,6],"strokeWidth":1.3},"encoding":{"y":{"field":"g","type":"quantitative","scale":{"domain":[-1.065,1.08],"nice":false,"zero":false},"axis":null}}},
  {"data":{"name":"iqrR"},"mark":{"type":"line","color":"#F0A010","opacity":0.55,"strokeWidth":1.4},"encoding":{"x":{"field":"x","type":"quantitative","scale":{"domain":[-1.5,94.3],"nice":false,"zero":false},"axis":{"values":[0,20,40,60,80],"format":"d","title":"Lead times","labelPadding":14,"titlePadding":24}},"y":{"field":"y","type":"quantitative","scale":{"domain":[-1.065,1.08],"nice":false,"zero":false},"axis":null},"detail":{"field":"s"}}},
  {"data":{"values":[{}]},"mark":{"type":"rule","color":"#333333","strokeWidth":1.5},"encoding":{"y":{"datum":0,"type":"quantitative","scale":{"domain":[-1.065,1.08],"nice":false,"zero":false},"axis":null}}}
 ]},
 {"width":243,"height":237,"layer":[
  {"data":{"values":[{}]},"mark":{"type":"rule","color":"black","strokeWidth":2,"strokeDash":[8,7]},"encoding":{"x":{"datum":-0.086,"type":"quantitative","scale":{"domain":[0,1],"nice":false,"zero":false},"axis":null},"x2":{"datum":1},"y":{"datum":0,"type":"quantitative","scale":{"domain":[-1.065,1.08],"nice":false,"zero":false},"axis":null}}},
  {"data":{"values":[{"t":"> Seas"}]},"mark":{"type":"text","font":"Lato","fontSize":48,"color":"#A0C10E","align":"center","baseline":"middle"},"encoding":{"text":{"field":"t"},"x":{"datum":0.42,"type":"quantitative","scale":{"domain":[0,1],"nice":false,"zero":false},"axis":null},"y":{"datum":0.443,"type":"quantitative","scale":{"domain":[-1.065,1.08],"nice":false,"zero":false},"axis":null}}},
  {"data":{"values":[{"t":"< Seas"}]},"mark":{"type":"text","font":"Lato","fontSize":48,"color":"#A0C10E","align":"center","baseline":"middle"},"encoding":{"text":{"field":"t"},"x":{"datum":0.42,"type":"quantitative","scale":{"domain":[0,1],"nice":false,"zero":false},"axis":null},"y":{"datum":-0.507,"type":"quantitative","scale":{"domain":[-1.065,1.08],"nice":false,"zero":false},"axis":null}}}
 ]}
]
}
